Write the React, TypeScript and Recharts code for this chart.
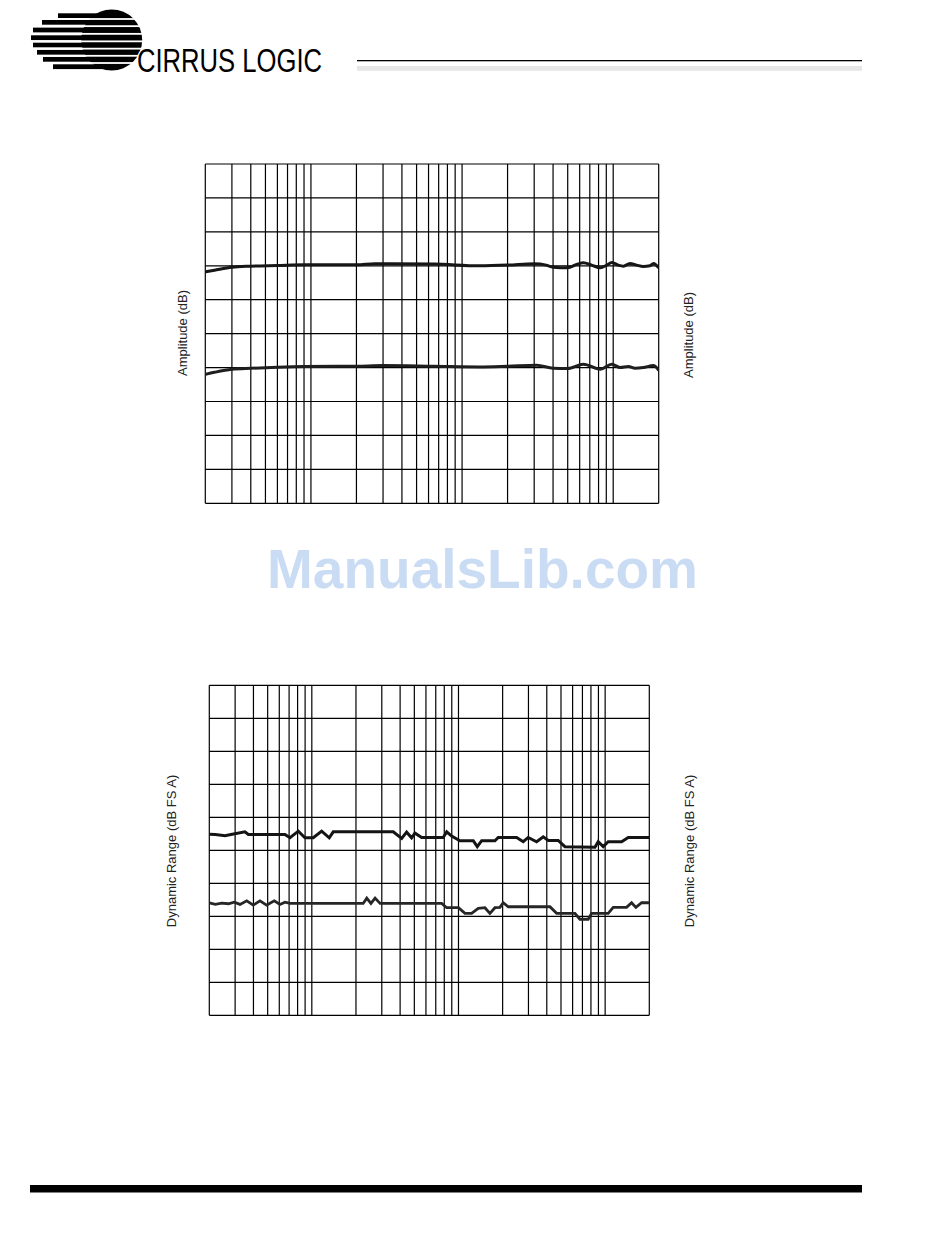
import React from 'react';
import { LineChart, Line, XAxis, YAxis, ReferenceLine } from 'recharts';

// Log-frequency grid, 20 Hz .. 20 kHz
const gridFreqs = [
  20, 30, 40, 50, 60, 70, 80, 90, 100,
  200, 300, 400, 500, 600, 700, 800, 900, 1000,
  2000, 3000, 4000, 5000, 6000, 7000, 8000, 9000, 10000, 20000,
];
const ampGridDb = [-7, -6, -5, -4, -3, -2, -1, 0, 1, 2, 3];
const drGridDb = [90, 91, 92, 93, 94, 95, 96, 97, 98, 99, 100];

// Frequency response, upper trace
const respUpperHz = [20, 23, 30, 40, 60, 90, 200, 265, 650, 1300, 2000, 3000, 3600, 4000, 5000, 5740, 6350, 7200, 8200, 9070, 9800, 10800, 11700, 12900, 14300, 15800, 17500, 18500, 20000];
const respUpperDb = [-0.18, -0.13, -0.04, -0.01, 0.01, 0.03, 0.03, 0.06, 0.05, 0.0, 0.02, 0.06, 0.02, -0.04, -0.06, 0.04, 0.09, 0.02, -0.06, 0.02, 0.1, 0.02, -0.01, 0.07, 0.02, -0.02, 0.0, 0.07, -0.06];

// Frequency response, lower trace
const respLowerHz = [20, 23, 30, 40, 60, 90, 200, 300, 650, 1300, 2000, 3120, 4000, 5000, 6350, 8200, 9800, 11100, 12600, 13960, 15840, 18450, 20000];
const respLowerDb = [-3.2, -3.14, -3.05, -3.02, -2.99, -2.97, -2.96, -2.94, -2.96, -2.98, -2.96, -2.93, -3.02, -3.03, -2.9, -3.05, -2.9, -3.0, -2.97, -3.02, -3.0, -2.94, -3.08];

// Dynamic range, upper trace
const drUpperHz = [20, 22, 25.6, 28.1, 35, 36.9, 65.6, 71, 80.9, 89.8, 102.3, 116.7, 131.5, 140, 359, 410, 443, 479, 505, 561, 787, 831, 898, 1023, 1261, 1343, 1439, 1772, 1866, 2492, 2763, 2989, 3410, 3784, 4092, 4786, 5318, 8516, 8968, 9702, 10490, 12950, 14370, 20000];
const drUpperDb = [95.49, 95.48, 95.44, 95.48, 95.56, 95.48, 95.48, 95.38, 95.58, 95.38, 95.38, 95.58, 95.38, 95.56, 95.56, 95.36, 95.55, 95.38, 95.52, 95.39, 95.39, 95.56, 95.43, 95.29, 95.29, 95.11, 95.29, 95.29, 95.39, 95.39, 95.26, 95.39, 95.26, 95.41, 95.3, 95.3, 95.11, 95.09, 95.26, 95.11, 95.26, 95.26, 95.39, 95.39];

// Dynamic range, lower trace
const drLowerHz = [20, 22, 24.3, 27, 29.6, 32.4, 36, 39.9, 44.3, 49.2, 55.5, 60.7, 65.6, 71, 224, 237, 253, 270, 292, 768, 831, 1000, 1107, 1229, 1364, 1515, 1638, 1772, 1917, 2019, 2184, 4203, 4668, 6222, 6730, 7664, 8086, 10490, 11350, 14000, 15150, 16210, 17730, 20000];
const drLowerDb = [93.41, 93.36, 93.4, 93.38, 93.43, 93.36, 93.47, 93.34, 93.47, 93.34, 93.47, 93.36, 93.43, 93.39, 93.39, 93.55, 93.39, 93.55, 93.39, 93.39, 93.26, 93.26, 93.09, 93.09, 93.24, 93.26, 93.09, 93.26, 93.27, 93.41, 93.29, 93.29, 93.09, 93.09, 92.91, 92.91, 93.09, 93.09, 93.27, 93.27, 93.41, 93.27, 93.41, 93.41];

const zip = (hz: number[], db: number[]) => hz.map((f, i) => ({ f, v: db[i] }));

const respUpper = zip(respUpperHz, respUpperDb);
const respLower = zip(respLowerHz, respLowerDb);
const drUpper = zip(drUpperHz, drUpperDb);
const drLower = zip(drLowerHz, drLowerDb);

const GRID = '#000';
const FONT = '"Liberation Sans", Arial, Helvetica, sans-serif';

function GridLines({ yValues }: { yValues: number[] }) {
  return (
    <>
      {gridFreqs.map((f) => (
        <ReferenceLine key={'x' + f} x={f} stroke={GRID} strokeWidth={1.2} ifOverflow="visible" />
      ))}
      {yValues.map((v) => (
        <ReferenceLine key={'y' + v} y={v} stroke={GRID} strokeWidth={1.2} ifOverflow="visible" />
      ))}
    </>
  );
}

function ResponseChart() {
  return (
    <LineChart
      width={580}
      height={400}
      margin={{ top: 24, right: 71.3, bottom: 36.7, left: 55.3 }}
    >
      <XAxis type="number" dataKey="f" scale="log" domain={[20, 20000]} allowDataOverflow hide />
      <YAxis type="number" domain={[-7, 3]} allowDataOverflow hide />
      {GridLines({ yValues: ampGridDb })}
      <Line data={respUpper} dataKey="v" type="monotone" stroke="#161616" strokeWidth={3} dot={false} isAnimationActive={false} />
      <Line data={respLower} dataKey="v" type="monotone" stroke="#1e1e1e" strokeWidth={3} dot={false} isAnimationActive={false} />
    </LineChart>
  );
}

function DynamicRangeChart() {
  return (
    <LineChart
      width={560}
      height={400}
      margin={{ top: 25.3, right: 60.7, bottom: 44.7, left: 59.3 }}
    >
      <XAxis type="number" dataKey="f" scale="log" domain={[20, 20000]} allowDataOverflow hide />
      <YAxis type="number" domain={[90, 100]} allowDataOverflow hide />
      {GridLines({ yValues: drGridDb })}
      <Line data={drUpper} dataKey="v" type="linear" stroke="#141414" strokeWidth={3} dot={false} isAnimationActive={false} />
      <Line data={drLower} dataKey="v" type="linear" stroke="#262626" strokeWidth={2.8} dot={false} isAnimationActive={false} />
    </LineChart>
  );
}

const logoRows = [15.7, 22.3, 30, 37.7, 45, 52.3, 59.3, 66.7];
const logoStarts = [58, 42, 33, 31, 33, 37, 43, 53];

function PageDecor() {
  return (
    <svg width={950} height={1248} style={{ position: 'absolute', left: 0, top: 0 }}>
      {/* logo mark */}
      <circle cx={111.7} cy={40} r={30.5} fill="#000" />
      {logoRows.map((y, i) => (
        <rect key={'s' + i} x={logoStarts[i]} y={y - 2.4} width={112 - logoStarts[i]} height={4.8} fill="#000" />
      ))}
      {logoRows.slice(0, -1).map((y, i) => (
        <rect key={'g' + i} x={25} y={(y + logoRows[i + 1]) / 2 - 0.9} width={125} height={1.8} fill="#fff" />
      ))}
      <text
        x={137}
        y={71.7}
        fontFamily={'"Liberation Sans Narrow", "Liberation Sans", Arial, sans-serif'}
        fontSize={33}
        textLength={185}
        lengthAdjust="spacingAndGlyphs"
        fill="#000"
        stroke="#fff"
        strokeWidth={3}
        style={{ paintOrder: 'stroke' }}
      >
        CIRRUS LOGIC
      </text>

      {/* header rule */}
      <rect x={357} y={60} width={505} height={1.3} fill="#000" />
      <rect x={357} y={66} width={505} height={4.8} fill="#e6e6e6" />

      {/* footer rule */}
      <rect x={30} y={1185} width={832} height={7.5} fill="#000" />

      {/* watermark */}
      <text
        x={267}
        y={588}
        fontFamily={FONT}
        fontWeight="bold"
        fontSize={56}
        textLength={431}
        lengthAdjust="spacingAndGlyphs"
        fill="#cadcf4"
      >
        ManualsLib.com
      </text>

      {/* axis titles */}
      <text transform="translate(186.5,333) rotate(-90)" textAnchor="middle" fontFamily={FONT} fontSize={13} fill="#222">
        Amplitude (dB)
      </text>
      <text transform="translate(692.5,335) rotate(-90)" textAnchor="middle" fontFamily={FONT} fontSize={13} fill="#222">
        Amplitude (dB)
      </text>
      <text transform="translate(175.5,851) rotate(-90)" textAnchor="middle" fontFamily={FONT} fontSize={13} fill="#222">
        Dynamic Range (dB FS A)
      </text>
      <text transform="translate(694,851) rotate(-90)" textAnchor="middle" fontFamily={FONT} fontSize={13} fill="#222">
        Dynamic Range (dB FS A)
      </text>
    </svg>
  );
}

export default function App() {
  return (
    <div style={{ position: 'absolute', left: 0, top: 0, width: 950, height: 1248, background: '#fff', overflow: 'hidden' }}>
      <PageDecor />
      <div style={{ position: 'absolute', left: 150, top: 140 }}>
        <ResponseChart />
      </div>
      <div style={{ position: 'absolute', left: 150, top: 660 }}>
        <DynamicRangeChart />
      </div>
    </div>
  );
}
